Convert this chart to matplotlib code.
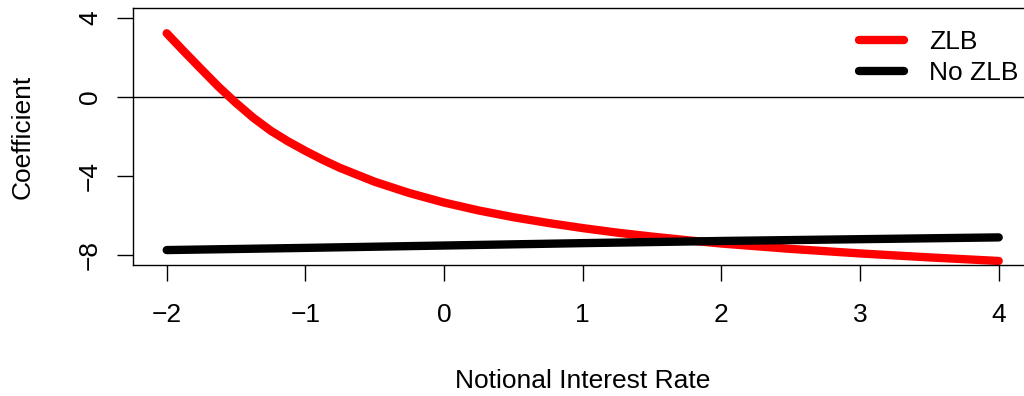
import matplotlib
matplotlib.use('Agg')
import matplotlib.pyplot as plt

plt.rcParams['font.family'] = ['Liberation Sans', 'DejaVu Sans']

# ── Data ──────────────────────────────────────────────────────────────────────
rate = [-2.0, -1.875, -1.75, -1.625, -1.5, -1.375, -1.25, -1.125, -1.0,
        -0.875, -0.75, -0.5, -0.25, 0.0, 0.25, 0.5, 0.75, 1.0, 1.25, 1.5,
        1.75, 2.0, 2.5, 3.0, 3.5, 4.0]
zlb = [3.22, 2.30, 1.40, 0.51, -0.30, -1.05, -1.70, -2.24, -2.72,
       -3.17, -3.58, -4.28, -4.85, -5.33, -5.73, -6.07, -6.36, -6.62, -6.85,
       -7.05, -7.23, -7.40, -7.67, -7.90, -8.10, -8.28]
no_zlb_x = [-2, -1, 0, 1, 2, 3, 4]
no_zlb = [-7.73, -7.62, -7.50, -7.38, -7.27, -7.18, -7.09]

x_ticks = [-2, -1, 0, 1, 2, 3, 4]
y_ticks = [-8, -4, 0, 4]

FS = 19

fig = plt.figure(figsize=(10.24, 3.96), dpi=100)
ax = fig.add_axes([0.1303, 0.331, 0.8775, 0.648])

ax.axhline(0, color='black', lw=1.0, zorder=1)
ax.plot(rate, zlb, color='#FF0000', lw=6, solid_capstyle='round',
        solid_joinstyle='round', label='ZLB', zorder=2)
ax.plot(no_zlb_x, no_zlb, color='black', lw=6, solid_capstyle='round',
        label='No ZLB', zorder=3)

ax.set_xlim(-2.24, 4.24)
ax.set_ylim(-8.48, 4.48)
ax.set_xticks(x_ticks)
ax.set_yticks(y_ticks)
ax.tick_params(direction='out', length=11.5, width=1.0, labelsize=FS)
ax.tick_params(axis='x', pad=16)
ax.tick_params(axis='y', pad=11)
for lab in ax.get_yticklabels():
    lab.set_rotation(90)
    lab.set_va('center')
for sp in ax.spines.values():
    sp.set_linewidth(1.0)

ax.set_xlabel('Notional Interest Rate', fontsize=FS, va='center')
ax.xaxis.set_label_coords(0.5, -0.4525)
ax.set_ylabel('Coefficient', fontsize=FS, va='center')
ax.yaxis.set_label_coords(-0.1234, 0.5)

leg = ax.legend(loc='upper left', bbox_to_anchor=(859 / 1024, 1 - 30 / 396),
                bbox_transform=fig.transFigure, frameon=False, fontsize=FS,
                handlelength=1.70, handletextpad=0.95, labelspacing=0.27,
                borderpad=0, borderaxespad=0)

fig.savefig('out.png', dpi=100)
